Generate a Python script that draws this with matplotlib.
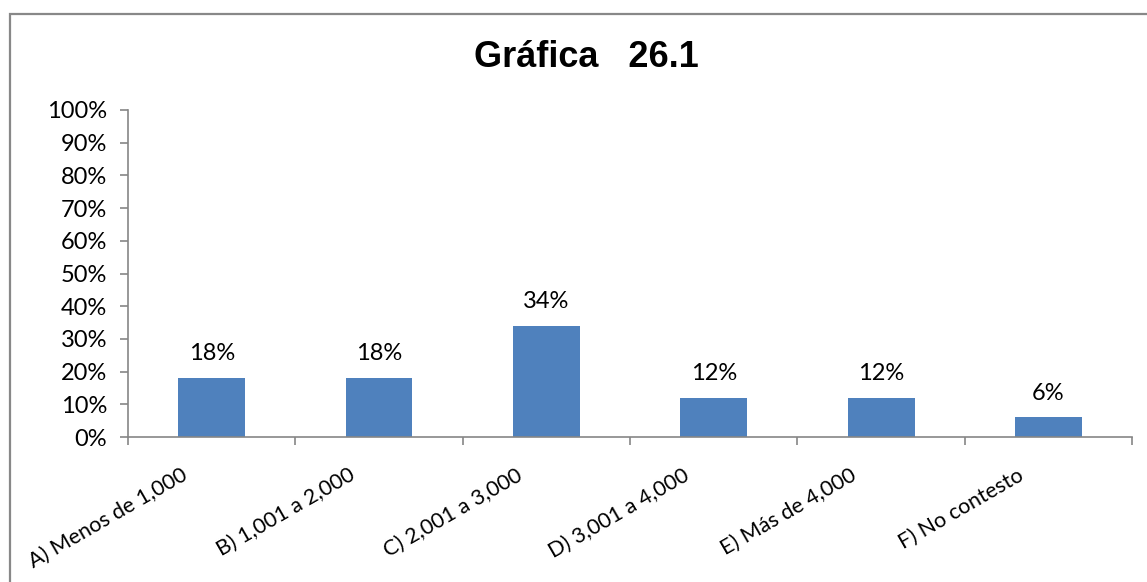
import matplotlib
matplotlib.use("Agg")
import matplotlib.pyplot as plt
import matplotlib.transforms as mtransforms
from matplotlib.patches import Rectangle

# ---------------------------------------------------------
# Data
# ---------------------------------------------------------
categories = ["A) Menos de 1,000", "B) 1,001 a 2,000", "C) 2,001 a 3,000",
              "D) 3,001 a 4,000", "E) Más de 4,000", "F) No contesto"]
values = [18, 18, 34, 12, 12, 6]
yticks = [0, 10, 20, 30, 40, 50, 60, 70, 80, 90, 100]

BAR_COLOR = "#4F81BD"
AXIS_COLOR = "#868686"
FONT = ["Lato", "DejaVu Sans"]
FS = 17

plt.rcParams["font.family"] = FONT

fig = plt.figure(figsize=(11.47, 5.82), dpi=100)
ax = fig.add_axes([0.1116, 0.249, 0.8754, 0.562])

# outer chart frame (only top and left edges are visible)
fig.patches.append(Rectangle((0.0087, -0.1), 1.2, 1.076, transform=fig.transFigure,
                             fill=False, edgecolor="#888888", linewidth=1.6))

x = list(range(len(categories)))
bars = ax.bar(x, values, width=0.4, color=BAR_COLOR)

for xi, v in zip(x, values):
    ax.annotate(f"{v}%", (xi, v), xytext=(0, 10), textcoords="offset points",
                ha="center", va="bottom", fontsize=FS, color="black")

ax.set_xlim(-0.5, len(categories) - 0.5)
ax.set_ylim(0, 100)
ax.set_yticks(yticks)
ax.set_yticklabels([f"{t}%" for t in yticks], fontsize=FS)

# category labels at centers, tick marks at boundaries
ax.set_xticks(x)
ax.set_xticklabels(categories, fontsize=15.5, rotation=30, ha="right",
                   va="top", rotation_mode="anchor")
ax.set_xticks([i - 0.5 for i in range(len(categories) + 1)], minor=True)
ax.tick_params(axis="x", which="major", length=0, pad=20)
ax.tick_params(axis="x", which="minor", length=6, width=1.2, color=AXIS_COLOR)
ax.tick_params(axis="y", length=6, width=1.2, color=AXIS_COLOR, pad=9)

offset = mtransforms.ScaledTranslation(-0.31, 0, fig.dpi_scale_trans)
for lab in ax.get_xticklabels():
    lab.set_transform(lab.get_transform() + offset)

for side in ["top", "right"]:
    ax.spines[side].set_visible(False)
for side in ["left", "bottom"]:
    ax.spines[side].set_color(AXIS_COLOR)
    ax.spines[side].set_linewidth(1.2)

fig.text(0.511, 0.902, "Gráfica   26.1", ha="center", va="center",
         fontsize=26, fontweight="bold", family=["Liberation Sans", "DejaVu Sans"])

fig.savefig("out.png", dpi=100)
